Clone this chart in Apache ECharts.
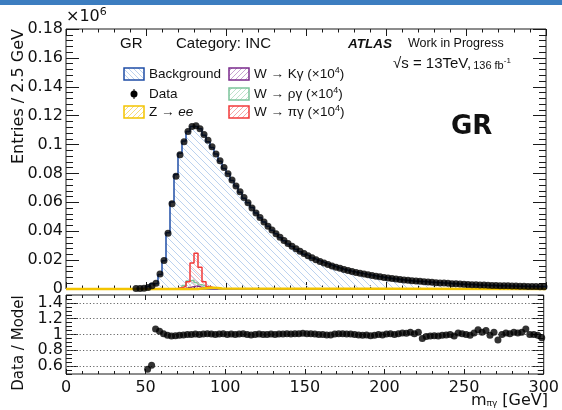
<!DOCTYPE html>
<html><head><meta charset="utf-8">
<script src="https://cdn.jsdelivr.net/npm/echarts@6/dist/echarts.min.js"></script>
<style>html,body{margin:0;padding:0;background:#fff}#c{width:562px;height:410px}</style>
</head><body><div id="c"></div>
<script>
// ---- data (Entries in units of 1e6, bins of 2.5 GeV) ----
const binWidth = 2.5;
const binCenters = [43.75,46.25,48.75,51.25,53.75,56.25,58.75,61.25,63.75,66.25,
  68.75,71.25,73.75,76.25,78.75,81.25,83.75,86.25,88.75,91.25,
  93.75,96.25,98.75,101.25,103.75,106.25,108.75,111.25,113.75,116.25,
  118.75,121.25,123.75,126.25,128.75,131.25,133.75,136.25,138.75,141.25,
  143.75,146.25,148.75,151.25,153.75,156.25,158.75,161.25,163.75,166.25,
  168.75,171.25,173.75,176.25,178.75,181.25,183.75,186.25,188.75,191.25,
  193.75,196.25,198.75,201.25,203.75,206.25,208.75,211.25,213.75,216.25,
  218.75,221.25,223.75,226.25,228.75,231.25,233.75,236.25,238.75,241.25,
  243.75,246.25,248.75,251.25,253.75,256.25,258.75,261.25,263.75,266.25,
  268.75,271.25,273.75,276.25,278.75,281.25,283.75,286.25,288.75,291.25,
  293.75,296.25,298.75];
const dataValues = [0.0003,0.0004,0.0006,0.0010,0.0022,0.0040,0.0104,0.0197,0.0386,0.0590,
  0.0780,0.0930,0.1020,0.1090,0.1125,0.1130,0.1110,0.1070,0.1030,0.0985,
  0.0935,0.0888,0.0842,0.0798,0.0755,0.0713,0.0673,0.0634,0.0597,0.0561,
  0.0527,0.0495,0.0464,0.0435,0.0408,0.0382,0.0358,0.0336,0.0315,0.0296,
  0.0278,0.0261,0.0245,0.0230,0.0216,0.0203,0.0191,0.0180,0.0170,0.0160,
  0.0151,0.0143,0.0135,0.0128,0.0121,0.0115,0.0109,0.0103,0.0098,0.0093,
  0.0088,0.0084,0.0080,0.0076,0.0072,0.0069,0.0066,0.0063,0.0060,0.0057,
  0.0055,0.0053,0.0050,0.0048,0.0046,0.0044,0.0042,0.0041,0.0039,0.0037,
  0.0036,0.0034,0.0033,0.0032,0.0030,0.0029,0.0028,0.0027,0.0026,0.0025,
  0.0024,0.0023,0.0022,0.0022,0.0021,0.0020,0.0019,0.0019,0.0018,0.0017,
  0.0017,0.0016,0.0016];
const ratioValues = [null,null,null,0.56,0.61,1.07,1.04,1.01,0.99,0.98,
  0.985,0.99,0.995,1.0,1.0,1.005,1.0,1.005,1.01,1.005,
  1.0,1.005,1.01,1.0,1.005,1.0,1.005,1.01,1.0,0.995,
  1.0,1.005,1.0,1.0,1.005,1.0,1.005,1.005,1.01,1.005,
  1.01,1.01,1.015,1.01,1.01,1.005,1.0,1.0,0.995,0.995,
  1.005,1.01,1.01,1.005,1.005,1.0,0.995,0.99,0.995,0.985,
  0.99,1.0,0.995,1.005,1.01,1.0,1.01,1.02,1.015,1.03,
  1.01,1.03,0.95,0.975,0.98,0.985,0.98,0.99,0.995,1.0,
  0.98,1.02,1.01,1.0,0.99,1.02,1.06,1.03,1.05,0.99,
  1.03,0.93,1.0,1.02,1.01,1.03,1.02,1.03,1.07,1.0,
  1.0,0.99,0.96];
const sigCenters = [68.75,71.25,73.75,76.25,78.75,81.25,83.75,86.25,88.75,91.25,93.75];
const piGamma  = [0.0003,0.0008,0.0020,0.0050,0.0180,0.0248,0.0150,0.0050,0.0018,0.0008,0.0003];
const rhoGamma = [0.0004,0.0010,0.0025,0.0055,0.0060,0.0045,0.0030,0.0018,0.0010,0.0006,0.0003];
const kGamma   = [0.0001,0.0003,0.0006,0.0011,0.0016,0.0020,0.0012,0.0006,0.0003,0.0001,0.0000];
const zeeCenters = [83.75,86.25,88.75,91.25,93.75,96.25];
const zeeValues  = [0.0003,0.0006,0.0008,0.0009,0.0007,0.0004];
const ratioTicks = [0.6,0.8,1,1.2,1.4];

// ---- helpers ----
function stepPts(centers, values) {
  const p = [[centers[0] - binWidth/2, 0]];
  for (let i = 0; i < centers.length; i++) p.push([centers[i] - binWidth/2, values[i]]);
  const last = centers[centers.length-1] + binWidth/2;
  p.push([last, values[values.length-1]]);
  p.push([last, 0]);
  return p;
}
function hatch(color, dir, s) {
  s = s || 6;
  const c = document.createElement('canvas'); c.width = s; c.height = s;
  const g = c.getContext('2d'); g.strokeStyle = color; g.lineWidth = 1;
  g.beginPath();
  for (const k of [-s, 0, s]) {
    if (dir === 'b') { g.moveTo(k, 0); g.lineTo(k + s, s); }
    else { g.moveTo(k, s); g.lineTo(k + s, 0); }
  }
  g.stroke();
  return { image: c, repeat: 'repeat' };
}
const modelValues = dataValues.map((d, i) => ratioValues[i] ? d / ratioValues[i] : 0);
const zeePts = [[0, 0]].concat(stepPts(zeeCenters, zeeValues)).concat([[300, 0]]);

const C = { bkg: '#1f4ea6', bkgH: '#bcd2ef', zee: '#f3c400', zeeH: '#f8dc7a', red: '#f23a3a', redH: '#f6a6a6',
  green: '#7cc49a', greenH: '#bfe3cc', purple: '#7a2a8c', purpleH: '#c7a3d2' };
const FR = '#1a1a1a';
const DV = 'DejaVu Sans', LS = 'Liberation Sans';

const chart = echarts.init(document.getElementById('c'), null, { renderer: 'canvas' });

function xAx(grid, pos, labels, tl, interval) {
  return { type: 'value', gridIndex: grid, position: pos, min: 0, max: 300, interval: interval,
    axisLine: { show: false, onZero: false },
    axisTick: { show: true, inside: true, length: tl, lineStyle: { color: FR } },
    axisLabel: { show: labels, margin: 6, fontSize: 16, fontFamily: DV, color: '#111' },
    splitLine: { show: false } };
}
function yAx(grid, pos, min, max, interval, tl, labels, custom) {
  const a = { type: 'value', gridIndex: grid, position: pos, min: min, max: max, interval: interval,
    axisLine: { show: false, onZero: false },
    axisTick: { inside: true, length: tl, lineStyle: { color: FR } },
    axisLabel: { show: labels, margin: 3, fontSize: 16, fontFamily: DV, color: '#111', formatter: v => String(+(+v).toFixed(2)) },
    splitLine: { show: false } };
  if (custom) { a.axisTick.customValues = custom; a.axisLabel.customValues = custom; }
  return a;
}

const option = {
  animation: false,
  backgroundColor: '#fff',
  grid: [
    { left: 66, right: 16, top: 29, height: 260, show: true, borderColor: FR, borderWidth: 1, backgroundColor: 'transparent' },
    { left: 66, right: 16, top: 295, height: 79, show: true, borderColor: FR, borderWidth: 1, backgroundColor: 'transparent' }
  ],
  xAxis: [
    xAx(0, 'bottom', false, 7, 50), xAx(0, 'top', false, 7, 50), xAx(1, 'bottom', true, 5, 50), xAx(1, 'top', false, 5, 50),
    xAx(0, 'bottom', false, 3.5, 10), xAx(0, 'top', false, 3.5, 10), xAx(1, 'bottom', false, 3, 10), xAx(1, 'top', false, 3, 10)
  ],
  yAxis: [
    yAx(0, 'left', 0, 0.18, 0.02, 13, true),
    yAx(0, 'right', 0, 0.18, 0.02, 13, false),
    yAx(1, 'left', 0.5, 1.5, 0.1, 12, true, ratioTicks),
    yAx(1, 'right', 0.5, 1.5, 0.1, 12, false, ratioTicks),
    yAx(0, 'left', 0, 0.18, 0.004, 7, false),
    yAx(0, 'right', 0, 0.18, 0.004, 7, false),
    yAx(1, 'left', 0.5, 1.5, 0.05, 6, false),
    yAx(1, 'right', 0.5, 1.5, 0.05, 6, false)
  ],
  series: [
    { name: 'Background', type: 'line', xAxisIndex: 0, yAxisIndex: 0, step: 'end', showSymbol: false, symbol: 'none',
      data: stepPts(binCenters, modelValues), lineStyle: { color: C.bkg, width: 1.5 },
      areaStyle: { color: hatch(C.bkgH, 'b', 7), opacity: 1 }, z: 1 },
    { name: 'W → ργ', type: 'line', xAxisIndex: 0, yAxisIndex: 0, step: 'end', symbol: 'none',
      data: stepPts(sigCenters, rhoGamma), lineStyle: { color: C.green, width: 1.5 },
      areaStyle: { color: hatch(C.greenH, 'f', 5) }, z: 2 },
    { name: 'W → Kγ', type: 'line', xAxisIndex: 0, yAxisIndex: 0, step: 'end', symbol: 'none',
      data: stepPts(sigCenters, kGamma), lineStyle: { color: C.purple, width: 1.5 },
      areaStyle: { color: hatch(C.purpleH, 'f', 5) }, z: 2 },
    { name: 'W → πγ', type: 'line', xAxisIndex: 0, yAxisIndex: 0, step: 'end', symbol: 'none',
      data: stepPts(sigCenters, piGamma), lineStyle: { color: C.red, width: 1.5 },
      areaStyle: { color: hatch(C.redH, 'b', 5) }, z: 3 },
    { name: 'Z → ee', type: 'line', xAxisIndex: 0, yAxisIndex: 0, step: 'end', symbol: 'none', clip: false,
      data: zeePts, lineStyle: { color: C.zee, width: 2.5 }, z: 4 },
    { name: 'Data', type: 'scatter', xAxisIndex: 0, yAxisIndex: 0, symbol: 'circle', symbolSize: 7,
      data: binCenters.map((x, i) => [x, dataValues[i]]), itemStyle: { color: '#000' }, z: 6 },
    { name: 'Ratio', type: 'scatter', xAxisIndex: 2, yAxisIndex: 2, symbol: 'circle', symbolSize: 7,
      data: binCenters.map((x, i) => [x, ratioValues[i]]).filter(p => p[1] !== null), itemStyle: { color: '#000' }, z: 6,
      markLine: { silent: true, symbol: 'none', label: { show: false },
        lineStyle: { color: '#666', type: [1.2, 2.2], width: 1 },
        data: ratioTicks.map(v => ({ yAxis: v })) } }
  ],
  graphic: [
    { type: 'rect', shape: { x: 0, y: 0, width: 562, height: 5 }, style: { fill: '#3c7dc0' }, silent: true },
    { type: 'text', x: 66, y: 26, style: { text: '×10{s|6}', fill: '#111', font: '16px "DejaVu Sans"', verticalAlign: 'bottom', textVerticalAlign: 'bottom',
        rich: { s: { fontSize: 11, fontFamily: DV, verticalAlign: 'top', padding: [0, 0, 8, 0] } } } },
    { type: 'text', x: 19, y: 29, rotation: Math.PI / 2, style: { text: 'Entries / 2.5 GeV', fill: '#111', font: '16px "DejaVu Sans"', align: 'right', textAlign: 'right', verticalAlign: 'middle', textVerticalAlign: 'middle' } },
    { type: 'text', x: 19, y: 343, rotation: Math.PI / 2, style: { text: 'Data / Model', fill: '#111', font: '15px "DejaVu Sans"', align: 'center', textAlign: 'center', verticalAlign: 'middle', textVerticalAlign: 'middle' } },
    { type: 'text', x: 548, y: 409, style: { text: 'm{sub|πγ} [GeV]', fill: '#111', font: '16px "DejaVu Sans"', align: 'right', textAlign: 'right', verticalAlign: 'bottom', textVerticalAlign: 'bottom',
        rich: { sub: { fontSize: 9, fontFamily: DV, padding: [6, 0, 0, 0] } } } },
    { type: 'text', x: 120, y: 44, style: { text: 'GR', fill: '#111', font: '15px "Liberation Sans"', verticalAlign: 'middle', textVerticalAlign: 'middle' } },
    { type: 'text', x: 176, y: 44, style: { text: 'Category: INC', fill: '#111', font: '15px "Liberation Sans"', verticalAlign: 'middle', textVerticalAlign: 'middle' } },
    { type: 'text', x: 348, y: 44, style: { text: 'ATLAS', fill: '#111', font: 'italic bold 13.5px "Liberation Sans"', verticalAlign: 'middle', textVerticalAlign: 'middle' } },
    { type: 'text', x: 408, y: 44, style: { text: 'Work in Progress', fill: '#111', font: '12.5px "Liberation Sans"', verticalAlign: 'middle', textVerticalAlign: 'middle' } },
    { type: 'text', x: 393, y: 64, style: { text: '√s = 13TeV,{m|136 fb}{u|-1}', fill: '#111', font: '15px "Liberation Sans"', verticalAlign: 'middle', textVerticalAlign: 'middle',
        rich: { m: { fontSize: 11, fontFamily: LS, padding: [3, 0, 0, 2] }, u: { fontSize: 8, fontFamily: LS, padding: [0, 0, 6, 0] } } } },
    { type: 'text', x: 451, y: 127, style: { text: 'GR', fill: '#111', font: 'bold 26px "DejaVu Sans"', verticalAlign: 'middle', textVerticalAlign: 'middle' } },
    { type: 'rect', shape: { x: 124, y: 68, width: 20, height: 12 }, style: { fill: hatch(C.bkgH, 'b', 5), stroke: C.bkg, lineWidth: 1.5 } },
    { type: 'text', x: 149, y: 74, style: { text: 'Background', fill: '#111', font: '13.5px "Liberation Sans"', verticalAlign: 'middle', textVerticalAlign: 'middle' } },
    { type: 'line', shape: { x1: 134, y1: 89, x2: 134, y2: 99 }, style: { stroke: '#000', lineWidth: 1 } },
    { type: 'circle', shape: { cx: 134, cy: 94, r: 3.5 }, style: { fill: '#000' } },
    { type: 'text', x: 149, y: 94, style: { text: 'Data', fill: '#111', font: '13.5px "Liberation Sans"', verticalAlign: 'middle', textVerticalAlign: 'middle' } },
    { type: 'rect', shape: { x: 124, y: 106, width: 20, height: 12 }, style: { fill: hatch(C.zeeH, 'f', 5), stroke: C.zee, lineWidth: 1.5 } },
    { type: 'text', x: 149, y: 112, style: { text: 'Z → {i|ee}', fill: '#111', font: '13.5px "Liberation Sans"', verticalAlign: 'middle', textVerticalAlign: 'middle',
        rich: { i: { fontStyle: 'italic', fontSize: 13.5, fontFamily: LS } } } },
    { type: 'rect', shape: { x: 229, y: 68, width: 20, height: 12 }, style: { fill: hatch(C.purpleH, 'f', 5), stroke: C.purple, lineWidth: 1.5 } },
    { type: 'text', x: 254, y: 74, style: { text: 'W → Kγ (×10{u|4})', fill: '#111', font: '13.5px "Liberation Sans"', verticalAlign: 'middle', textVerticalAlign: 'middle',
        rich: { u: { fontSize: 9, fontFamily: LS, padding: [0, 0, 6, 0] } } } },
    { type: 'rect', shape: { x: 229, y: 88, width: 20, height: 12 }, style: { fill: hatch(C.greenH, 'f', 5), stroke: C.green, lineWidth: 1.5 } },
    { type: 'text', x: 254, y: 94, style: { text: 'W → ργ (×10{u|4})', fill: '#111', font: '13.5px "Liberation Sans"', verticalAlign: 'middle', textVerticalAlign: 'middle',
        rich: { u: { fontSize: 9, fontFamily: LS, padding: [0, 0, 6, 0] } } } },
    { type: 'rect', shape: { x: 229, y: 106, width: 20, height: 12 }, style: { fill: hatch(C.redH, 'f', 5), stroke: C.red, lineWidth: 1.5 } },
    { type: 'text', x: 254, y: 112, style: { text: 'W → πγ (×10{u|4})', fill: '#111', font: '13.5px "Liberation Sans"', verticalAlign: 'middle', textVerticalAlign: 'middle',
        rich: { u: { fontSize: 9, fontFamily: LS, padding: [0, 0, 6, 0] } } } }
  ]
};
chart.setOption(option);
</script></body></html>
